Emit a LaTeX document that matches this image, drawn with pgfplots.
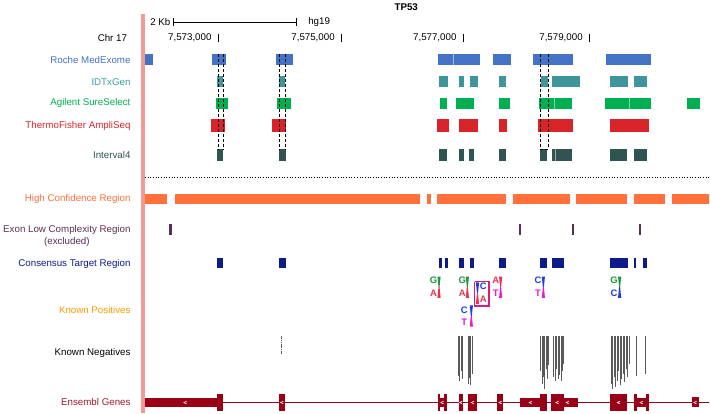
\documentclass[border=0pt]{standalone}
\usepackage{pgfplots}
\pgfplotsset{compat=1.18}
\usepackage{fontspec}
\setmainfont{Liberation Sans}
\definecolor{roche}{RGB}{68,114,196}
\definecolor{idt}{RGB}{62,150,156}
\definecolor{idtl}{RGB}{58,158,165}
\definecolor{agil}{RGB}{0,176,80}
\definecolor{thermo}{RGB}{216,36,40}
\definecolor{intv}{RGB}{48,84,82}
\definecolor{hc}{RGB}{255,112,58}
\definecolor{exl}{RGB}{92,46,82}
\definecolor{cons}{RGB}{12,26,138}
\definecolor{kp}{RGB}{255,153,0}
\definecolor{ens}{RGB}{153,0,24}
\definecolor{ensl}{RGB}{160,24,44}
\definecolor{pinkbar}{RGB}{244,152,150}
\definecolor{nG}{RGB}{30,150,60}
\definecolor{nA}{RGB}{232,50,80}
\definecolor{nC}{RGB}{30,60,230}
\definecolor{nT}{RGB}{230,30,200}
\definecolor{boxc}{RGB}{214,30,120}
\definecolor{neg}{RGB}{90,90,90}
% rectangle: color, x1, x2, y1, y2
\newcommand{\bx}[5]{\addplot[fill=#1,draw=none,forget plot] coordinates {(#2,#4) (#3,#4) (#3,#5) (#2,#5)};}
% known-positive wedge: x, ytop, ymid, ybot, top colour, bottom colour
\newcommand{\kpw}[6]{%
  \pgfmathsetmacro{\xl}{#1-1.6}\pgfmathsetmacro{\xr}{#1+1.6}%
  \pgfmathsetmacro{\xa}{#1-0.5}\pgfmathsetmacro{\xb}{#1+0.5}%
  \addplot[fill=#5,draw=none,forget plot] coordinates {(\xl,#2) (\xr,#2) (\xb,#3) (\xa,#3)};
  \addplot[fill=#6,draw=none,forget plot] coordinates {(\xa,#3) (\xb,#3) (\xr,#4) (\xl,#4)};
}
% chevron
\newcommand{\chev}[2]{%
  \pgfmathsetmacro{\cxa}{#1+1.4}\pgfmathsetmacro{\cxb}{#1-1.4}%
  \pgfmathsetmacro{\cya}{#2-1.4}\pgfmathsetmacro{\cyb}{#2+1.4}%
  \addplot[white,line width=0.6pt,forget plot] coordinates {(\cxa,\cya) (\cxb,#2) (\cxa,\cyb)};
}
\begin{document}
\fontsize{9.8}{11.5}\selectfont
\begin{tikzpicture}
\begin{axis}[
  width=710pt, height=414pt, scale only axis,
  xmin=0, xmax=710, ymin=0, ymax=414, y dir=reverse,
  hide axis, clip=false,
  every node/.style={inner sep=0pt},
]
% background frame
\addplot[fill=white,draw=none,forget plot] coordinates {(0,0) (710,0) (710,414) (0,414)};
% pink bar
\bx{pinkbar}{138.5}{142}{12}{414}

% title and ruler
\node[font=\bfseries\fontsize{9.8}{11}\selectfont] at (axis cs:405,5) {TP53};
\node[anchor=west] at (axis cs:144,20) {2 Kb};
\node[anchor=west] at (axis cs:303,20) {hg19};
\addplot[black,line width=1pt,forget plot] coordinates {(170.7,20.5) (295,20.5)};
\addplot[black,line width=1pt,forget plot] coordinates {(170.7,16.5) (170.7,24.5)};
\addplot[black,line width=1pt,forget plot] coordinates {(295,16.5) (295,24.5)};
\node[anchor=east] at (axis cs:127.5,36.5) {Chr 17};
\node[anchor=east] at (axis cs:212.5,36.5) {7,573,000};
\node[anchor=east] at (axis cs:336.5,36.5) {7,575,000};
\node[anchor=east] at (axis cs:459,36.5) {7,577,000};
\node[anchor=east] at (axis cs:586,36.5) {7,579,000};
\addplot[black,line width=1.6pt,forget plot] coordinates {(216,32) (216,41)};
\addplot[black,line width=1.6pt,forget plot] coordinates {(340,32) (340,41)};
\addplot[black,line width=1.6pt,forget plot] coordinates {(462.5,32) (462.5,41)};
\addplot[black,line width=1.6pt,forget plot] coordinates {(589.5,32) (589.5,41)};

% track labels
\node[anchor=east,text=roche] at (axis cs:131,58.3) {Roche MedExome};
\node[anchor=east,text=idtl] at (axis cs:131,80.5) {IDTxGen};
\node[anchor=east,text=agil] at (axis cs:131,102) {Agilent SureSelect};
\node[anchor=east,text=thermo] at (axis cs:131,125) {ThermoFisher AmpliSeq};
\node[anchor=east,text=intv] at (axis cs:131,154.5) {Interval4};
\node[anchor=east,text=hc] at (axis cs:131,198.5) {High Confidence Region};
\node[anchor=east,text=exl,align=center] at (axis cs:131,235.5) {Exon Low Complexity Region\\(excluded)};
\node[anchor=east,text=cons] at (axis cs:131,263.5) {Consensus Target Region};
\node[anchor=east,text=kp] at (axis cs:131,310) {Known Positives};
\node[anchor=east,text=black] at (axis cs:131,353.5) {Known Negatives};
\node[anchor=east,text=ensl] at (axis cs:131,402.5) {Ensembl Genes};

% Roche MedExome
\bx{roche}{141.7}{150.7}{52.7}{64}
\bx{roche}{210}{223.7}{52.7}{64}
\bx{roche}{274}{290.7}{52.7}{64}
\bx{roche}{436.7}{479.3}{52.7}{64}
\bx{roche}{492.3}{510}{52.7}{64}
\bx{roche}{532.7}{572.7}{52.7}{64}
\bx{roche}{606}{651.3}{52.7}{64}
\addplot[white,opacity=0.5,line width=0.5pt,forget plot] coordinates {(452,52.7) (452,64)};
% IDTxGen
\bx{idt}{215}{220.7}{75}{86}
\bx{idt}{277.3}{283.3}{75}{86}
\bx{idt}{438}{446.7}{75}{86}
\bx{idt}{458.3}{463.3}{75}{86}
\bx{idt}{468.7}{477}{75}{86}
\bx{idt}{498}{505.3}{75}{86}
\bx{idt}{540.7}{547.3}{75}{86}
\bx{idt}{552}{579.7}{75}{86}
\bx{idt}{610}{627.7}{75}{86}
\bx{idt}{634}{647.7}{75}{86}
% Agilent SureSelect
\bx{agil}{213.3}{225.3}{96.7}{107.7}
\bx{agil}{275}{288.7}{96.7}{107.7}
\bx{agil}{438.7}{446.3}{96.7}{107.7}
\bx{agil}{454.7}{473.3}{96.7}{107.7}
\bx{agil}{498.7}{509}{96.7}{107.7}
\bx{agil}{538.7}{572}{96.7}{107.7}
\bx{agil}{604.7}{651}{96.7}{107.7}
\bx{agil}{688}{700.3}{96.7}{107.7}
\addplot[white,opacity=0.5,line width=0.5pt,forget plot] coordinates {(554.3,96.7) (554.3,107.7)};
\addplot[white,opacity=0.5,line width=0.5pt,forget plot] coordinates {(629.3,96.7) (629.3,107.7)};
% ThermoFisher AmpliSeq
\bx{thermo}{209}{222.7}{118}{130.7}
\bx{thermo}{270}{284.3}{118}{130.7}
\bx{thermo}{436}{448.3}{118}{130.7}
\bx{thermo}{457.7}{477.3}{118}{130.7}
\bx{thermo}{498}{506}{118}{130.7}
\bx{thermo}{538}{572.3}{118}{130.7}
\bx{thermo}{610}{649}{118}{130.7}
% Interval4
\bx{intv}{215}{220.7}{148}{160.7}
\bx{intv}{277}{283.7}{148}{160.7}
\bx{intv}{438}{446}{148}{160.7}
\bx{intv}{458}{462.7}{148}{160.7}
\bx{intv}{468.3}{473}{148}{160.7}
\bx{intv}{498}{505}{148}{160.7}
\bx{intv}{540}{547}{148}{160.7}
\bx{intv}{551.7}{571.7}{148}{160.7}
\bx{intv}{610}{627.3}{148}{160.7}
\bx{intv}{633.7}{647.3}{148}{160.7}
\addplot[white,opacity=0.5,line width=0.5pt,forget plot] coordinates {(555,148) (555,160.7)};

% dashed guide lines
\addplot[black,densely dashed,line width=0.6pt,forget plot] coordinates {(215.5,52.7) (215.5,148)};
\addplot[black,densely dashed,line width=0.6pt,forget plot] coordinates {(220.5,52.7) (220.5,148)};
\addplot[black,densely dashed,line width=0.6pt,forget plot] coordinates {(277.7,52.7) (277.7,148)};
\addplot[black,densely dashed,line width=0.6pt,forget plot] coordinates {(283.2,52.7) (283.2,148)};
\addplot[black,densely dashed,line width=0.6pt,forget plot] coordinates {(540,52.7) (540,148) (547.7,148) (547.7,52.7)};

% dotted separator
\addplot[black,dotted,line width=0.7pt,forget plot] coordinates {(142,176.7) (710,176.7)};

% High Confidence Region
\bx{hc}{141.7}{164.3}{193.3}{204}
\bx{hc}{172.3}{419}{193.3}{204}
\bx{hc}{426}{430}{193.3}{204}
\bx{hc}{436.3}{505.7}{193.3}{204}
\bx{hc}{512.3}{570}{193.3}{204}
\bx{hc}{576.3}{627.3}{193.3}{204}
\bx{hc}{634.3}{665.7}{193.3}{204}
\bx{hc}{672}{710}{193.3}{204}

% Exon Low Complexity Region
\bx{exl}{166.7}{169.5}{223.3}{234.3}
\bx{exl}{518.7}{520.5}{223.3}{234.3}
\bx{exl}{572.2}{574}{223.3}{234.3}
\bx{exl}{638.7}{641}{223.3}{234.3}

% Consensus Target Region
\bx{cons}{215}{220.7}{257.7}{268.3}
\bx{cons}{277.3}{283.7}{257.7}{268.3}
\bx{cons}{438.3}{441}{257.7}{268.3}
\bx{cons}{443.7}{446.7}{257.7}{268.3}
\bx{cons}{458.3}{463.3}{257.7}{268.3}
\bx{cons}{468.7}{473.3}{257.7}{268.3}
\bx{cons}{498.7}{505.3}{257.7}{268.3}
\bx{cons}{540}{546.7}{257.7}{268.3}
\bx{cons}{552}{563.3}{257.7}{268.3}
\bx{cons}{610}{627.7}{257.7}{268.3}
\bx{cons}{634}{636.3}{257.7}{268.3}
\bx{cons}{643}{647.7}{257.7}{268.3}

% Known Positives
\kpw{438}{276.5}{287}{298}{nG}{nA}
\kpw{466.5}{276.5}{287}{298}{nG}{nA}
\kpw{500}{276.5}{287}{298}{nA}{nT}
\kpw{543}{276.5}{287}{298}{nC}{nT}
\kpw{619.7}{276.5}{287}{298}{nG}{nC}
\kpw{476.7}{282.5}{293.5}{304}{nC}{nA}
\kpw{470.5}{305.5}{316}{327}{nC}{nT}
\addplot[draw=boxc,line width=1.3pt,forget plot] coordinates {(473.7,281.7) (488.3,281.7) (488.3,306) (473.7,306) (473.7,281.7)};
\begin{scope}[font=\bfseries\fontsize{9.5}{10}\selectfont]
\node[text=nG] at (axis cs:432.5,280.5) {G};
\node[text=nA] at (axis cs:432.5,293) {A};
\node[text=nG] at (axis cs:461.5,280.5) {G};
\node[text=nA] at (axis cs:461.5,293) {A};
\node[text=nC] at (axis cs:482.5,286.5) {C};
\node[text=nA] at (axis cs:482.5,299.3) {A};
\node[text=nA] at (axis cs:495,280.5) {A};
\node[text=nT] at (axis cs:495,293.5) {T};
\node[text=nC] at (axis cs:463.3,310.5) {C};
\node[text=nT] at (axis cs:463.3,322.5) {T};
\node[text=nC] at (axis cs:537.7,280.5) {C};
\node[text=nT] at (axis cs:537.7,293.5) {T};
\node[text=nG] at (axis cs:614,280.5) {G};
\node[text=nC] at (axis cs:614,293) {C};
\end{scope}

% Known Negatives
\addplot[neg,line width=0.9pt,dash pattern=on 1.2pt off 0.6pt,forget plot] coordinates {(279,336.7) (279,354)};
\addplot[neg,line width=0.55pt,unbounded coords=jump,forget plot] coordinates {
(457.5,336.7) (457.5,377) (457.5,nan)
(458.7,336.7) (458.7,382) (458.7,nan)
(460,336.7) (460,372) (460,nan)
(461.3,336.7) (461.3,380) (461.3,nan)
(467,336.7) (467,385) (467,nan)
(468.4,336.7) (468.4,379) (468.4,nan)
(469.8,336.7) (469.8,386) (469.8,nan)
(471.2,336.7) (471.2,375) (471.2,nan)
(540,336.7) (540,372) (540,nan)
(541.4,336.7) (541.4,385) (541.4,nan)
(542.8,336.7) (542.8,378) (542.8,nan)
(544.2,336.7) (544.2,390) (544.2,nan)
(545.6,336.7) (545.6,370) (545.6,nan)
(547,336.7) (547,380) (547,nan)
(548.3,336.7) (548.3,366) (548.3,nan)
(553,336.7) (553,378) (553,nan)
(554.5,336.7) (554.5,382) (554.5,nan)
(556,336.7) (556,370) (556,nan)
(557.5,336.7) (557.5,380) (557.5,nan)
(559,336.7) (559,376) (559,nan)
(560.5,336.7) (560.5,382) (560.5,nan)
(562,336.7) (562,372) (562,nan)
(563.5,336.7) (563.5,365) (563.5,nan)
(611,336.7) (611,385) (611,nan)
(612.5,336.7) (612.5,390) (612.5,nan)
(614,336.7) (614,378) (614,nan)
(615.5,336.7) (615.5,388) (615.5,nan)
(617,336.7) (617,382) (617,nan)
(618.5,336.7) (618.5,372) (618.5,nan)
(620,336.7) (620,386) (620,nan)
(621.5,336.7) (621.5,380) (621.5,nan)
(623,336.7) (623,375) (623,nan)
(624.5,336.7) (624.5,383) (624.5,nan)
(626,336.7) (626,370) (626,nan)
(627.5,336.7) (627.5,378) (627.5,nan)
(629,336.7) (629,365) (629,nan)
(636.7,336.7) (636.7,377) (636.7,nan)
(645.7,336.7) (645.7,375)
};

% Ensembl Genes
\addplot[ens,line width=1.3pt,forget plot] coordinates {(141.7,403.3) (710,403.3)};
\bx{ens}{141.7}{215}{398.5}{407.8}
\bx{ens}{215}{220.7}{395}{411.7}
\bx{ens}{276.7}{283.3}{395}{411.7}
\bx{ens}{436.7}{439}{395}{411.7}
\bx{ens}{439}{443.5}{399}{407.7}
\bx{ens}{443.5}{446}{395}{411.7}
\bx{ens}{457.7}{462.3}{395}{411.7}
\bx{ens}{467.3}{476}{395}{411.7}
\bx{ens}{496.7}{502.7}{395}{411.7}
\bx{ens}{519}{540}{399}{407.7}
\bx{ens}{540}{546.7}{395}{411.7}
\bx{ens}{550.7}{563.3}{395}{411.7}
\bx{ens}{563.3}{578.3}{399}{407.7}
\bx{ens}{610}{627.3}{395}{411.7}
\bx{ens}{634}{637}{395}{411.7}
\bx{ens}{637}{646.3}{399}{407.7}
\bx{ens}{646.3}{649.3}{395}{411.7}
\bx{ens}{692.3}{699.3}{398}{408}
\chev{182.7}{403.3}
\chev{280}{403.3}
\chev{441.3}{403.3}
\chev{460}{403.3}
\chev{471.7}{403.3}
\chev{499.7}{403.3}
\chev{530}{403.3}
\chev{557}{403.3}
\chev{567.3}{403.3}
\chev{618.7}{403.3}
\chev{641.7}{403.3}
\chev{695.8}{403.3}
\end{axis}
\end{tikzpicture}
\end{document}
